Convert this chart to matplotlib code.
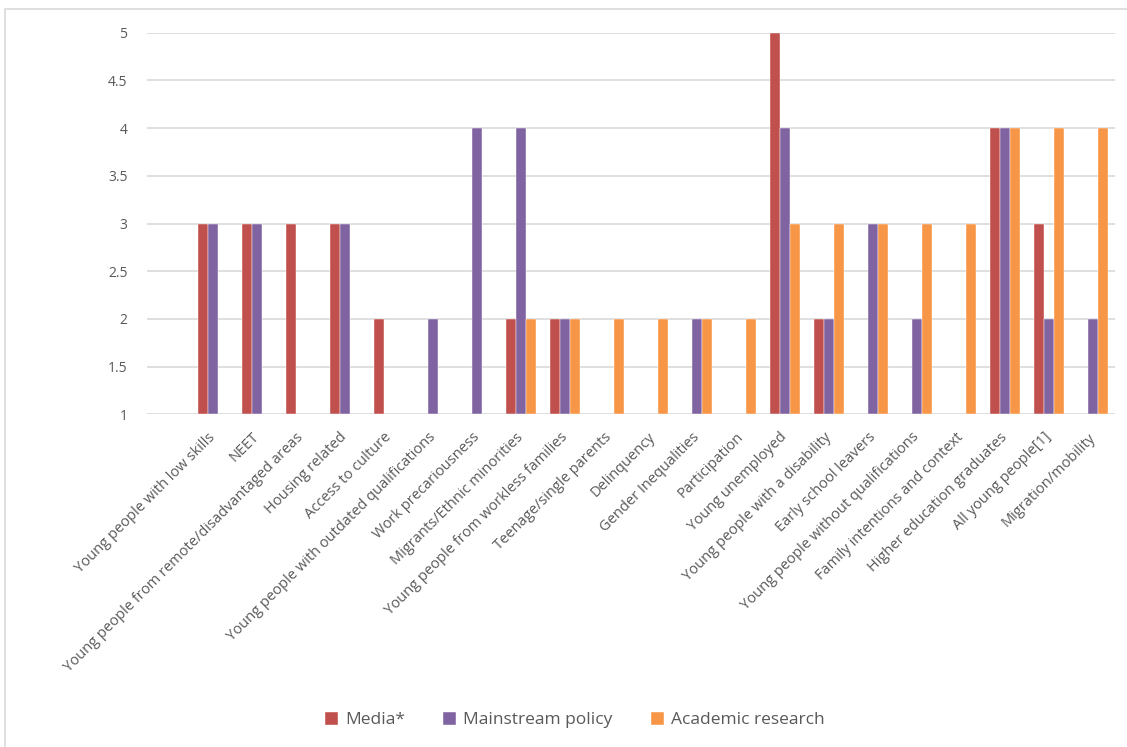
import numpy as np
import matplotlib
matplotlib.use("Agg")
import matplotlib.pyplot as plt
from matplotlib.patches import Rectangle

nan = np.nan

categories = [
    "Young people with low skills", "NEET",
    "Young people from remote/disadvantaged areas", "Housing related",
    "Access to culture", "Young people with outdated qualifications",
    "Work precariousness", "Migrants/Ethnic minorities",
    "Young people from workless families", "Teenage/single parents",
    "Delinquency", "Gender Inequalities", "Participation",
    "Young unemployed", "Young people with a disability",
    "Early school leavers", "Young people without qualifications",
    "Family intentions and context", "Higher education graduates",
    "All young people[1]", "Migration/mobility",
]

media = [3, 3, 3, 3, 2, nan, nan, 2, 2, nan, nan, nan, nan, 5, 2, nan, nan, nan, 4, 3, nan]
policy = [3, 3, nan, 3, nan, 2, 4, 4, 2, nan, nan, 2, nan, 4, 2, 3, 2, nan, 4, 2, 2]
academic = [nan, nan, nan, nan, nan, nan, nan, 2, 2, 2, 2, 2, 2, 3, 3, 3, 3, 3, 4, 4, 4]

series = [("Media*", media, "#C0504D"),
          ("Mainstream policy", policy, "#8064A2"),
          ("Academic research", academic, "#F79646")]

plt.rcParams['font.family'] = ['Open Sans', 'DejaVu Sans']

fig = plt.figure(figsize=(11.27, 7.47), dpi=100)
ax = fig.add_axes([0.1304, 0.4454, 0.8590, 0.5108])

x = np.arange(len(categories))
w = 0.227
base = 1
for k, (name, vals, col) in enumerate(series):
    v = np.array(vals, dtype=float)
    ax.bar(x + (k - 1) * w, v - base, w, bottom=base, color=col, label=name,
           edgecolor="white", linewidth=0.3)

# excel leaves an empty slot before the first category
ax.set_xlim(-1.5, len(categories) - 0.5)
ax.set_ylim(1, 5)
ax.set_yticks(np.arange(1, 5.01, 0.5))
ax.set_yticklabels(["1", "1.5", "2", "2.5", "3", "3.5", "4", "4.5", "5"])
ax.grid(axis="y", color="#D9D9D9", linewidth=1.2)
ax.set_axisbelow(True)
for s in ax.spines.values():
    s.set_visible(False)
ax.tick_params(axis="both", length=0, colors="#595959")
ax.tick_params(axis="y", pad=14, labelsize=10)

ax.set_xticks(x)
ax.set_xticklabels(categories, rotation=45, ha="right", va="center",
                   rotation_mode="anchor", fontsize=10.5)
ax.tick_params(axis="x", pad=15)

leg = fig.legend(loc="center", bbox_to_anchor=(0.51, 0.036), ncol=3, frameon=False,
                 fontsize=12.5, handlelength=0.75, handleheight=0.75,
                 handletextpad=0.4, columnspacing=2.2)
for t in leg.get_texts():
    t.set_color("#595959")

# outer chart border (only top/left visible in the crop)
fig.patches.append(Rectangle((5 / 1127, -0.1), 1.2, 1 - 9 / 747 + 0.1,
                             transform=fig.transFigure, fill=False,
                             edgecolor="#D9D9D9", linewidth=1.2))

fig.savefig("out.png", dpi=100)
